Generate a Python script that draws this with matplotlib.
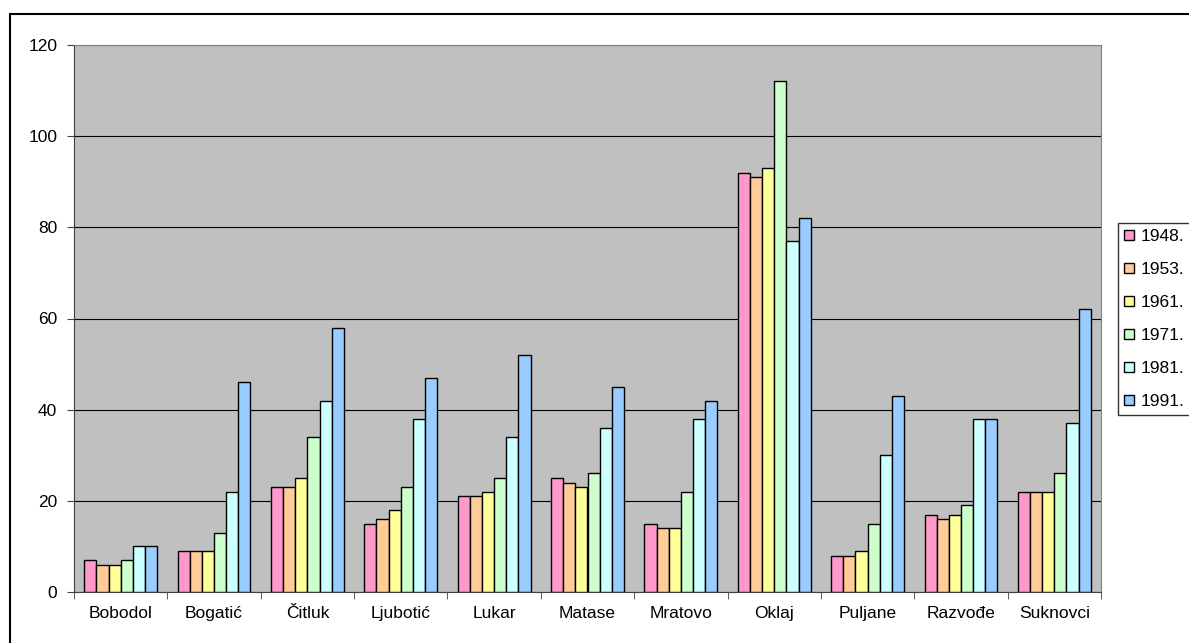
import numpy as np
import matplotlib.pyplot as plt
from matplotlib.patches import Rectangle

plt.rcParams['font.family'] = ['Liberation Sans', 'DejaVu Sans']

villages = ['Bobodol', 'Bogatić', 'Čitluk', 'Ljubotić', 'Lukar', 'Matase',
            'Mratovo', 'Oklaj', 'Puljane', 'Razvođe', 'Suknovci']
years = ['1948.', '1953.', '1961.', '1971.', '1981.', '1991.']

v1948 = [7, 9, 23, 15, 21, 25, 15, 92, 8, 17, 22]
v1953 = [6, 9, 23, 16, 21, 24, 14, 91, 8, 16, 22]
v1961 = [6, 9, 25, 18, 22, 23, 14, 93, 9, 17, 22]
v1971 = [7, 13, 34, 23, 25, 26, 22, 112, 15, 19, 26]
v1981 = [10, 22, 42, 38, 34, 36, 38, 77, 30, 38, 37]
v1991 = [10, 46, 58, 47, 52, 45, 42, 82, 43, 38, 62]

series = [v1948, v1953, v1961, v1971, v1981, v1991]
colors = ['#FF99CC', '#FFCC99', '#FFFF99', '#CCFFCC', '#CCFFFF', '#99CCFF']

fig = plt.figure(figsize=(11.89, 6.43), dpi=100)
W, H = 1189, 643

# outer chart border
fig.patches.append(Rectangle((10 / W, -0.1), 1.2, 1 - 14 / H + 0.1,
                             transform=fig.transFigure, fill=False,
                             edgecolor='black', lw=1.5))

ax = fig.add_axes([74 / W, 51 / H, (1101 - 74) / W, (592 - 45) / H])
ax.set_facecolor('#C0C0C0')

x = np.arange(len(villages))
bw = 0.13
for i, (vals, c, yr) in enumerate(zip(series, colors, years)):
    ax.bar(x + (i - 2.5) * bw, vals, bw, color=c, edgecolor='black',
           linewidth=1, label=yr, zorder=3)

ax.set_xlim(-0.5, len(villages) - 0.5)
ax.set_ylim(0, 120)
ax.set_yticks(range(0, 121, 20))
ax.yaxis.grid(True, color='black', lw=0.8, zorder=1)

ax.set_xticks(x)
ax.set_xticklabels(villages, fontsize=12.5)
ax.tick_params(axis='x', length=0, pad=10)
ax.set_xticks(np.arange(-0.5, len(villages)), minor=True)
ax.tick_params(axis='x', which='minor', length=5, direction='out', color='#404040')
ax.tick_params(axis='y', labelsize=12.5, length=5, pad=7, color='#404040')

for s in ['top', 'right']:
    ax.spines[s].set_color('#808080')
ax.spines['left'].set_color('#404040')
ax.spines['bottom'].set_color('#404040')

leg = fig.legend(loc='upper left', bbox_to_anchor=(1118 / W, 1 - 223 / H),
                 fontsize=12.5, frameon=True, fancybox=False, edgecolor='black',
                 handlelength=0.55, handleheight=0.55, handletextpad=0.4,
                 labelspacing=1.04, borderpad=0.35, borderaxespad=0)
leg.get_frame().set_linewidth(1)

fig.savefig('out.png', dpi=100)
